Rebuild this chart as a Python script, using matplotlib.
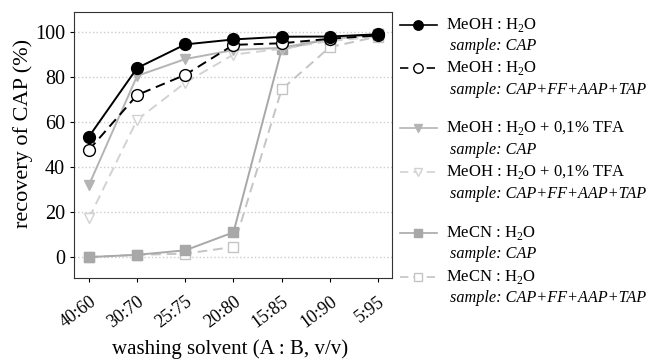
import matplotlib.pyplot as plt
from matplotlib.lines import Line2D

plt.rcParams["font.family"] = ["Liberation Serif", "DejaVu Serif"]
plt.rcParams["mathtext.fontset"] = "custom"
plt.rcParams["mathtext.rm"] = "Liberation Serif"

# data
ratios = ["40:60", "30:70", "25:75", "20:80", "15:85", "10:90", "5:95"]
meoh_cap = [53.5, 84, 94.5, 96.7, 97.9, 98, 99]
meoh_mix = [47.6, 72, 81, 94.3, 95, 97, 98.5]
tfa_cap = [32, 80.5, 88, 92, 93, 97, 99]
tfa_mix = [17.3, 61, 77.5, 90, 92.5, 96, 98]
mecn_cap = [0, 1, 3, 11, 92.3, 97, 99]
mecn_mix = [0, 1, 1.5, 4.5, 74.5, 93.3, 98]

label_main = ["MeOH : H$_2$O", "MeOH : H$_2$O",
              "MeOH : H$_2$O + 0,1% TFA", "MeOH : H$_2$O + 0,1% TFA",
              "MeCN : H$_2$O", "MeCN : H$_2$O"]
label_sample = ["sample: CAP", "sample: CAP+FF+AAP+TAP"] * 3

styles = [
    dict(color="black", ls="-", marker="o", mfc="black", mec="black", ms=8.5, lw=1.4),
    dict(color="black", ls=(0, (5, 3)), marker="o", mfc="white", mec="black", ms=8.5, lw=1.4),
    dict(color="#b4b4b4", ls="-", marker="v", mfc="#b4b4b4", mec="#b4b4b4", ms=7.5, lw=1.4),
    dict(color="#d2d2d2", ls=(0, (5, 3)), marker="v", mfc="white", mec="#d2d2d2", ms=7.5, lw=1.4),
    dict(color="#a8a8a8", ls="-", marker="s", mfc="#a8a8a8", mec="#a8a8a8", ms=7.5, lw=1.4),
    dict(color="#c4c4c4", ls=(0, (5, 3)), marker="s", mfc="white", mec="#c4c4c4", ms=7.5, lw=1.4),
]
series = [meoh_cap, meoh_mix, tfa_cap, tfa_mix, mecn_cap, mecn_mix]

fig = plt.figure(figsize=(6.48, 3.64), dpi=100)
ax = fig.add_axes([74 / 648, 1 - 278 / 364, 318 / 648, 266 / 364])

x = list(range(len(ratios)))
# light ones first so the black lines sit on top
for i in [5, 4, 3, 2, 1, 0]:
    ax.plot(x, series[i], **styles[i], zorder=3 + (5 - i) * 0.1)

ax.set_xlim(-0.31, 6.29)
ax.set_ylim(-9.3, 108.9)
ax.set_yticks([0, 20, 40, 60, 80, 100])
ax.set_xticks(x)
ax.set_xticklabels(ratios, rotation=37, ha="right", rotation_mode="anchor")
ax.tick_params(axis="y", labelsize=14.5, length=3)
ax.tick_params(axis="x", labelsize=13, length=3, pad=8)
ax.grid(axis="y", ls=":", color="#cccccc", lw=1)
ax.set_axisbelow(True)
for s in ax.spines.values():
    s.set_color("#333333")
    s.set_linewidth(0.8)

fig.text(23 / 648, 1 - 133 / 364, "recovery of CAP (%)", fontsize=16, rotation=90,
         ha="center", va="center")
fig.text(230 / 648, 1 - 349 / 364, "washing solvent (A : B, v/v)", fontsize=15,
         ha="center", va="center")

# legend drawn by hand
ys = [25, 68, 128, 172, 233, 277]
for i, yp in enumerate(ys):
    yf = 1 - yp / 364
    st = dict(styles[i])
    st["ms"] = st["ms"] * 0.8
    st["lw"] = 1.2
    fig.add_artist(Line2D([400 / 648, 437 / 648], [yf, yf], transform=fig.transFigure,
                          color=st["color"], ls=st["ls"], lw=st["lw"]))
    fig.add_artist(Line2D([418 / 648], [yf], transform=fig.transFigure, ls="none",
                          marker=st["marker"], mfc=st["mfc"], mec=st["mec"], ms=st["ms"]))
    fig.text(446 / 648, yf, label_main[i], fontsize=12, va="center", ha="left")
    fig.text(450 / 648, yf - 21.5 / 364, label_sample[i], fontsize=11.7, style="italic",
             va="center", ha="left")

fig.savefig("out.png", dpi=100)
